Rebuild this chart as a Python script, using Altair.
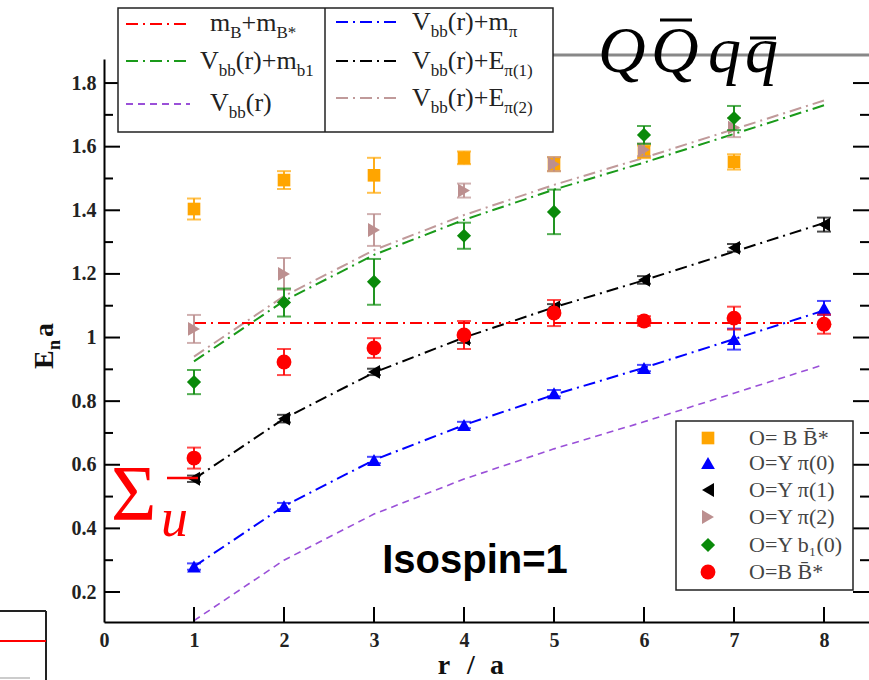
import altair as alt
import pandas as pd

# ---------------- data ----------------
r_vals = [1, 2, 3, 4, 5, 6, 7, 8]

# model curves
line_vbb = [0.11, 0.30, 0.445, 0.555, 0.65, 0.735, 0.825, 0.915]
line_vbb_mpi = [0.28, 0.47, 0.615, 0.725, 0.82, 0.905, 0.995, 1.085]
line_vbb_epi1 = [0.555, 0.745, 0.89, 1.0, 1.095, 1.18, 1.27, 1.36]
line_vbb_mb1 = [0.925, 1.115, 1.26, 1.37, 1.465, 1.55, 1.64, 1.73]
line_vbb_epi2 = [0.94, 1.13, 1.275, 1.385, 1.48, 1.565, 1.655, 1.745]
line_mb_mbs = [1.046, 1.046, 1.046, 1.046, 1.046, 1.046, 1.046, 1.046]

# lattice points (value, error)
r_orange = [1, 2, 3, 4, 5, 6, 7]
v_orange = [1.404, 1.495, 1.51, 1.565, 1.545, 1.584, 1.552]
e_orange = [0.033, 0.028, 0.055, 0.02, 0.022, 0.02, 0.024]

r_blue = [1, 2, 3, 4, 5, 6, 7, 8]
v_blue = [0.28, 0.47, 0.615, 0.725, 0.825, 0.904, 0.995, 1.093]
e_blue = [0.01, 0.01, 0.01, 0.01, 0.01, 0.01, 0.033, 0.022]

r_black = [1, 2, 3, 4, 5, 6, 7, 8]
v_black = [0.556, 0.745, 0.892, 0.995, 1.095, 1.181, 1.282, 1.355]
e_black = [0.01, 0.012, 0.01, 0.012, 0.01, 0.012, 0.012, 0.022]

r_pink = [1, 2, 3, 4, 5, 6, 7]
v_pink = [1.027, 1.2, 1.338, 1.462, 1.545, 1.59, 1.66]
e_pink = [0.044, 0.05, 0.05, 0.022, 0.022, 0.02, 0.03]

r_green = [1, 2, 3, 4, 5, 6, 7]
v_green = [0.86, 1.11, 1.175, 1.32, 1.395, 1.637, 1.69]
e_green = [0.038, 0.044, 0.072, 0.041, 0.07, 0.028, 0.038]

r_red = [1, 2, 3, 4, 5, 6, 7, 8]
v_red = [0.621, 0.923, 0.967, 1.008, 1.077, 1.052, 1.061, 1.042]
e_red = [0.033, 0.041, 0.031, 0.044, 0.041, 0.015, 0.036, 0.03]

x_ticks = [1, 2, 3, 4, 5, 6, 7, 8]
x_labels = [0, 1, 2, 3, 4, 5, 6, 7, 8]
y_major = [0.2, 0.4, 0.6, 0.8, 1.0, 1.2, 1.4, 1.6, 1.8]
y_minor = [0.3, 0.5, 0.7, 0.9, 1.1, 1.3, 1.5, 1.7]

legend_pts = ["O= B B\u0304*", "O=Y \u03c0(0)", "O=Y \u03c0(1)", "O=Y \u03c0(2)",
              "O=Y b\u2081(0)", "O=B B\u0304*"]

# ---------------- layout ----------------
W, H = 765, 563
OX, OY = 104, 59
xs = alt.Scale(domain=[0, 8.5], nice=False, zero=False)
ys = alt.Scale(domain=[0.1057, 1.8756], nice=False, zero=False)

SERIF = "Liberation Serif"
x_axis = alt.Axis(values=x_labels, format="d", ticks=False, grid=False, title=None,
                  domainColor="black", domainWidth=2, labelFont=SERIF,
                  labelFontWeight="bold", labelFontSize=20, labelColor="#222",
                  labelPadding=8, labelFlush=False, labelOverlap=False)
y_axis = alt.Axis(values=y_major, format="~g", ticks=False, grid=False, title=None,
                  domainColor="black", domainWidth=2, labelFont=SERIF,
                  labelFontWeight="bold", labelFontSize=20, labelColor="#222",
                  labelPadding=8, labelFlush=False, labelOverlap=False)


def XE(f="r"):
    return alt.X(f"{f}:Q", scale=xs, axis=x_axis)


def YE(f="v"):
    return alt.Y(f"{f}:Q", scale=ys, axis=y_axis)


ONE = pd.DataFrame({"k": [0]})
DASHDOT = [12, 5, 2, 5]

layers = []

# curves
curves = [
    (line_vbb, "#9a50d8", [7, 5], 1.6),
    (line_vbb_mpi, "#0000ff", DASHDOT, 2),
    (line_vbb_epi1, "#000000", DASHDOT, 2),
    (line_vbb_mb1, "#1a9a1a", DASHDOT, 2),
    (line_vbb_epi2, "#c09a9a", DASHDOT, 2),
    (line_mb_mbs, "#ff0000", DASHDOT, 2),
]
for vals, col, dash, w in curves:
    df = pd.DataFrame({"r": r_vals, "v": vals})
    layers.append(alt.Chart(df).mark_line(color=col, strokeDash=dash, strokeWidth=w)
                  .encode(x=XE(), y=YE()))

# points with error bars
series = [
    (r_orange, v_orange, e_orange, "#ffa500", "square", 160),
    (r_blue, v_blue, e_blue, "#0000ff", "triangle-up", 190),
    (r_black, v_black, e_black, "#000000", "triangle-left", 190),
    (r_pink, v_pink, e_pink, "#bc8f8f", "triangle-right", 190),
    (r_green, v_green, e_green, "#0a8a0a", "diamond", 200),
    (r_red, v_red, e_red, "#ff0000", "circle", 220),
]
for rr, vv, ee, col, shape, size in series:
    df = pd.DataFrame({"r": rr, "v": vv,
                       "lo": [a - b for a, b in zip(vv, ee)],
                       "hi": [a + b for a, b in zip(vv, ee)]})
    base = alt.Chart(df)
    layers.append(base.mark_rule(color=col, strokeWidth=1.8)
                  .encode(x=XE(), y=YE("lo"), y2="hi:Q"))
    layers.append(base.mark_tick(color=col, thickness=2, size=14, orient="horizontal")
                  .encode(x=XE(), y=YE("lo")))
    layers.append(base.mark_tick(color=col, thickness=2, size=14, orient="horizontal")
                  .encode(x=XE(), y=YE("hi")))
    layers.append(base.mark_point(shape=shape, filled=True, size=size, color=col, opacity=1)
                  .encode(x=XE(), y=YE()))

# axis ticks (inward)
dmaj = pd.DataFrame({"v": y_major})
dmin = pd.DataFrame({"v": y_minor})
layers.append(alt.Chart(dmaj).mark_rule(color="black", strokeWidth=2)
              .encode(y=YE(), x=alt.value(0), x2=alt.value(16)))
layers.append(alt.Chart(dmin).mark_rule(color="black", strokeWidth=2)
              .encode(y=YE(), x=alt.value(0), x2=alt.value(9)))
layers.append(alt.Chart(dmaj).mark_rule(color="black", strokeWidth=2)
              .encode(y=YE(), x=alt.value(W), x2=alt.value(W - 16)))
layers.append(alt.Chart(dmin).mark_rule(color="black", strokeWidth=2)
              .encode(y=YE(), x=alt.value(W), x2=alt.value(W - 9)))
layers.append(alt.Chart(pd.DataFrame({"r": x_ticks})).mark_rule(color="black", strokeWidth=2)
              .encode(x=XE(), y=alt.value(H), y2=alt.value(H - 15)))


# ---------------- decorations helpers (page pixel coords) ----------------
def txt(t, px, py, size, font=SERIF, color="#222", weight="normal", style="normal",
        align="left", baseline="alphabetic", angle=0):
    return alt.Chart(ONE).mark_text(text=t, font=font, fontSize=size, color=color,
                                    fontWeight=weight, fontStyle=style, align=align,
                                    baseline=baseline, angle=angle).encode(
        x=alt.value(px - OX), y=alt.value(py - OY))


def seg(x1, y1, x2, y2, color, width, dash=None):
    kw = {"strokeDash": dash} if dash else {}
    return alt.Chart(ONE).mark_rule(color=color, strokeWidth=width, **kw).encode(
        x=alt.value(x1 - OX), y=alt.value(y1 - OY), x2=alt.value(x2 - OX), y2=alt.value(y2 - OY))


def box(x1, y1, x2, y2, stroke="#222", sw=1.5):
    return alt.Chart(ONE).mark_rect(fill="white", stroke=stroke, strokeWidth=sw).encode(
        x=alt.value(x1 - OX), y=alt.value(y1 - OY), x2=alt.value(x2 - OX), y2=alt.value(y2 - OY))


def sym(px, py, shape, col, size):
    return alt.Chart(ONE).mark_point(shape=shape, filled=True, size=size, color=col, opacity=1).encode(
        x=alt.value(px - OX), y=alt.value(py - OY))


TW = {"V": 0.722, "b": 0.5, "(": 0.333, ")": 0.333, "r": 0.333, "+": 0.564, "m": 0.778,
      "E": 0.611, "B": 0.667, "*": 0.5, "\u03c0": 0.55, "1": 0.5, "2": 0.5, "0": 0.5}


def compound(parts, x0, base, main=26, sub=17, drop=7, color="#222"):
    out = []
    x = x0
    for t, is_sub in parts:
        fs = sub if is_sub else main
        out.append(txt(t, x, base + (drop if is_sub else 0), fs, color=color))
        x += sum(TW.get(c, 0.5) for c in t) * fs
    return out


# gray top frame line
layers.append(seg(553, 55, 869, 55, "#888888", 3))

# top legend
layers.append(box(118, 8, 553, 132))
layers.append(seg(325, 8, 325, 132, "#222", 1.5))
col1_y = [24, 61, 104]
col2_y = [22, 61, 98]
samples1 = [("#ff0000", DASHDOT), ("#1a9a1a", DASHDOT), ("#9a50d8", [7, 5])]
samples2 = [("#0000ff", DASHDOT), ("#000000", DASHDOT), ("#c09a9a", DASHDOT)]
for (c, d), yy in zip(samples1, col1_y):
    layers.append(seg(126, yy, 190, yy, c, 2, d))
for (c, d), yy in zip(samples2, col2_y):
    layers.append(seg(336, yy, 396, yy, c, 2, d))
layers += compound([("m", 0), ("B", 1), ("+m", 0), ("B*", 1)], 210, 31)
layers += compound([("V", 0), ("bb", 1), ("(r)+m", 0), ("b1", 1)], 200, 69)
layers += compound([("V", 0), ("bb", 1), ("(r)", 0)], 210, 111)
layers += compound([("V", 0), ("bb", 1), ("(r)+m", 0), ("\u03c0", 1)], 412, 30)
layers += compound([("V", 0), ("bb", 1), ("(r)+E", 0), ("\u03c0(1)", 1)], 412, 69)
layers += compound([("V", 0), ("bb", 1), ("(r)+E", 0), ("\u03c0(2)", 1)], 412, 106)

# Q Qbar q qbar
for ch, px in zip(["Q", "Q", "q", "q"], [598, 651, 708, 745]):
    layers.append(txt(ch, px, 72, 66, style="italic", color="black"))
layers.append(seg(660, 20, 692, 20, "black", 3))
layers.append(seg(750, 38, 776, 38, "black", 3))

# right legend
layers.append(box(676, 421, 853, 590))
rows_y = [438, 463, 490, 517, 545, 572]
for (rr, vv, ee, col, shape, size), yy, lab in zip(series, rows_y, legend_pts):
    layers.append(sym(708, yy, shape, col, size))
    layers.append(txt(lab, 749, yy, 22, color="#444", baseline="middle"))

# Sigma_u^- annotation
layers.append(txt("\u03a3", 111, 519, 78, color="#ff0000"))
layers.append(txt("u", 161, 536, 54, style="italic", color="#ff0000"))
layers.append(seg(167, 478, 198, 478, "#ff0000", 2.5))

# Isospin label
layers.append(txt("Isospin=1", 475, 573, 40, font="Liberation Sans", weight="bold",
                  color="black", align="center"))

# axis titles
for ch, px in zip(["r", "/", "a"], [444, 471, 497]):
    layers.append(txt(ch, px, 674, 28, weight="bold", color="#111", align="center"))
layers.append(txt("E", 53, 369, 28, weight="bold", color="#111", angle=270))
layers.append(txt("n", 60, 350, 18, weight="bold", color="#111", angle=270))
layers.append(txt("a", 53, 337, 28, weight="bold", color="#111", angle=270))

# bottom-left fragment of neighbouring frame
layers.append(seg(0, 611, 46, 611, "#222", 2))
layers.append(seg(46, 611, 46, 680, "#222", 2))
layers.append(seg(0, 641, 46, 641, "#ff0000", 2))
layers.append(seg(0, 678, 30, 678, "#cccccc", 2))

chart = alt.layer(*layers).properties(
    width=W, height=H,
    padding={"left": OX, "top": OY, "right": 0, "bottom": 680 - OY - H},
    autosize="none",
    background="white",
).configure_view(stroke=None)

chart.save("out.html", embed_options={"renderer": "svg", "actions": False})
